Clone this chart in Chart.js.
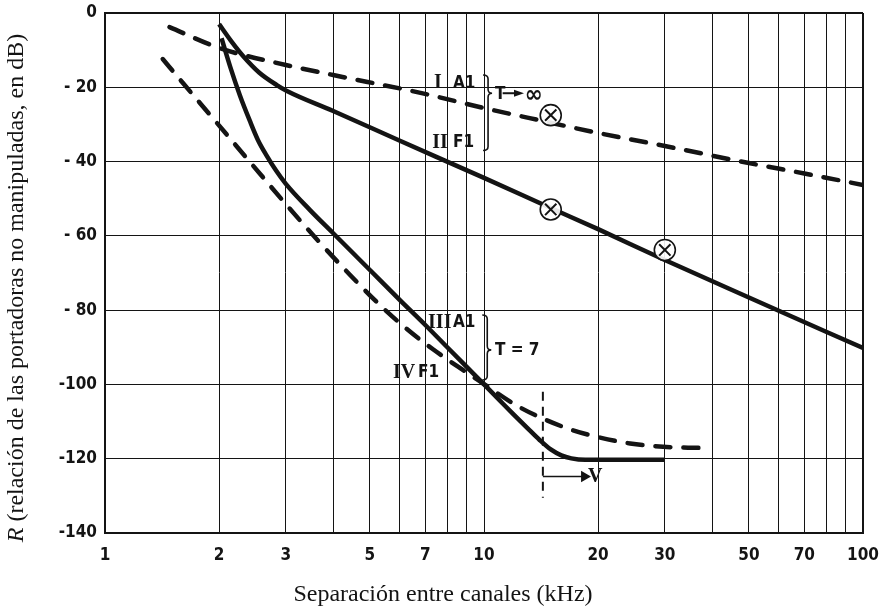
<!DOCTYPE html>
<html>
<head>
<meta charset="utf-8">
<script src="https://cdn.jsdelivr.net/npm/chart.js@4.4.1/dist/chart.umd.min.js"></script>
<style>
  body { margin: 0; background: #fff; }
  #wrap { width: 886px; height: 610px; position: relative; }
</style>
</head>
<body>
<div id="wrap"><canvas id="chart"></canvas></div>
<script>
// ejes
const xGrid = [1, 2, 3, 4, 5, 6, 7, 8, 9, 10, 20, 30, 40, 50, 60, 70, 80, 90, 100];
const xTickLabels = [1, 2, 3, 5, 7, 10, 20, 30, 50, 70, 100];
const yTicks = [0, -20, -40, -60, -80, -100, -120, -140];
const yTickLabels = ['0', '- 20', '- 40', '- 60', '- 80', '-100', '-120', '-140'];

// I  A1  (T -> inf), trazos
const curveIx = [1.48, 2, 3, 4, 6.8, 10, 13.2, 20, 30, 50, 70, 100];
const curveIy = [-3.8, -9.4, -14, -16.7, -21.5, -25.6, -28.3, -32.3, -35.8, -40.4, -43.2, -46.3];

// II  F1  (T -> inf), continua
const curveIIx = [2, 2.15, 2.31, 2.55, 2.84, 3.02, 4, 6, 10, 15, 20, 30, 50, 100];
const curveIIy = [-3, -7.5, -11.5, -16, -19.4, -21, -26.4, -34.4, -44.4, -52.5, -58.2, -66.5, -76.6, -90.2];

// III  A1  (T = 7), continua
const curveIIIx = [2.03, 2.14, 2.27, 2.41, 2.53, 2.67, 2.83, 3, 3.47, 4, 5, 6, 7, 8, 10, 11, 12, 13, 14, 15, 16, 17, 18.5, 22, 30];
const curveIIIy = [-6.8, -14.5, -22.2, -29, -34.1, -38.4, -42.5, -46, -53, -59.3, -69.2, -77.3, -84, -90, -100, -104.3, -108.2, -111.7, -114.9, -117.5, -119.1, -119.9, -120.3, -120.3, -120.3];

// IV  F1  (T = 7), trazos
const curveIVx = [1.42, 1.61, 1.97, 2.23, 2.56, 2.95, 3.62, 4.42, 5.41, 6.4, 7.35, 8.5, 10, 12.2, 14.3, 17, 20.2, 24.3, 29.7, 37.4];
const curveIVy = [-12.4, -19, -29.5, -36, -43.2, -50.6, -60.9, -70.4, -79.4, -85.9, -90.6, -95.1, -99.9, -105.7, -109.2, -112.2, -114.3, -115.9, -116.8, -117.1];

// puntos marcados (circulo con cruz)
const markX = [15, 15, 30];
const markY = [-27.5, -52.9, -63.8];

// limite V
const limitX = [14.3, 14.3];
const limitY = [-102, -130.5];
const arrowX = [14.3, 18.4];
const arrowY = [-124.8, -124.8];

const pts = (xs, ys) => xs.map((x, i) => ({x: x, y: ys[i]}));

const tickFont = "'DejaVu Sans Condensed', 'Liberation Sans Narrow', 'DejaVu Sans', sans-serif";
const serif = "'Liberation Serif', 'DejaVu Serif', serif";
const ink = '#141414';

// rotulos sobre las curvas
const notes = [
    {text: 'I', x: 7.38, y: -18.6, serif: true},
    {text: 'A1', x: 8.28, y: -18.6},
    {text: 'II', x: 7.3, y: -34.7, serif: true},
    {text: 'F1', x: 8.28, y: -34.7},
    {text: 'T', x: 10.69, y: -21.6},
    {text: '\u221E', x: 12.8, y: -21.9, size: 24},
    {text: 'III', x: 7.12, y: -83.2, serif: true},
    {text: 'A1', x: 8.28, y: -83.2},
    {text: 'IV', x: 5.75, y: -96.6, serif: true},
    {text: 'F1', x: 6.7, y: -96.6},
    {text: 'T = 7', x: 10.69, y: -90.7},
    {text: 'V', x: 18.8, y: -124.6, serif: true}
];
const braces = [
    {x: 10.25, top: -16.7, bottom: -37, tip: -21.6},
    {x: 10.2, top: -81.3, bottom: -98.8, tip: -90.7}
];
const smallArrows = [{from: 11.2, to: 12.75, y: -21.6}];

const notesPlugin = {
    id: 'notes',
    afterDatasetsDraw(chart){
        const ctx = chart.ctx;
        const sx = chart.scales.x, sy = chart.scales.y;
        ctx.save();
        ctx.fillStyle = ink;
        ctx.strokeStyle = ink;
        ctx.textBaseline = 'middle';
        ctx.textAlign = 'left';
        notes.forEach(n => {
            if (n.size) ctx.font = 'bold ' + n.size + 'px ' + tickFont;
            else ctx.font = n.serif ? 'bold 20px ' + serif : 'bold 17px ' + tickFont;
            ctx.fillText(n.text, sx.getPixelForValue(n.x), sy.getPixelForValue(n.y) + 1);
        });

        ctx.lineWidth = 1.6;
        braces.forEach(b => {
            const x = sx.getPixelForValue(b.x);
            const t = sy.getPixelForValue(b.top);
            const bt = sy.getPixelForValue(b.bottom);
            const m = sy.getPixelForValue(b.tip);
            ctx.beginPath();
            ctx.moveTo(x - 5, t);
            ctx.quadraticCurveTo(x, t, x, t + 4);
            ctx.lineTo(x, m - 4);
            ctx.quadraticCurveTo(x, m, x + 4, m);
            ctx.quadraticCurveTo(x, m, x, m + 4);
            ctx.lineTo(x, bt - 4);
            ctx.quadraticCurveTo(x, bt, x - 5, bt);
            ctx.stroke();
        });

        ctx.lineWidth = 2;
        smallArrows.forEach(a => {
            const x1 = sx.getPixelForValue(a.from);
            const x2 = sx.getPixelForValue(a.to);
            const y = sy.getPixelForValue(a.y);
            ctx.beginPath();
            ctx.moveTo(x1, y);
            ctx.lineTo(x2 - 6, y);
            ctx.stroke();
            ctx.beginPath();
            ctx.moveTo(x2, y);
            ctx.lineTo(x2 - 10, y - 3.5);
            ctx.lineTo(x2 - 10, y + 3.5);
            ctx.closePath();
            ctx.fill();
        });
        ctx.restore();
    },
    afterDraw(chart){
        const ctx = chart.ctx;
        ctx.save();
        ctx.fillStyle = ink;
        ctx.textBaseline = 'alphabetic';

        // titulo eje x
        ctx.font = '24px ' + serif;
        ctx.textAlign = 'center';
        ctx.fillText('Separación entre canales (kHz)', 443, chart.height - 9);

        // titulo eje y
        const r = 'R';
        const rest = ' (relación de las portadoras no manipuladas, en dB)';
        ctx.translate(23, 288);
        ctx.rotate(-Math.PI / 2);
        ctx.font = 'italic 24px ' + serif;
        const wR = ctx.measureText(r).width;
        ctx.font = '24px ' + serif;
        const wRest = ctx.measureText(rest).width;
        const start = -(wR + wRest) / 2;
        ctx.textAlign = 'left';
        ctx.font = 'italic 24px ' + serif;
        ctx.fillText(r, start, 0);
        ctx.font = '24px ' + serif;
        ctx.fillText(rest, start + wR, 0);
        ctx.restore();
    }
};

const lineSet = (xs, ys, dashed) => ({
    data: pts(xs, ys),
    borderColor: ink,
    borderWidth: 4.5,
    borderDash: dashed ? [15, 13] : [],
    borderCapStyle: dashed ? 'round' : 'butt',
    pointRadius: 0,
    cubicInterpolationMode: 'monotone',
    fill: false
});

new Chart(document.getElementById('chart'), {
    type: 'line',
    data: {
        datasets: [
            {
                data: pts(markX, markY),
                showLine: false,
                pointStyle: 'crossRot',
                pointRadius: 8,
                pointBorderWidth: 2,
                pointBorderColor: ink
            },
            {
                data: pts(markX, markY),
                showLine: false,
                pointStyle: 'circle',
                pointRadius: 10.5,
                pointBorderWidth: 1.6,
                pointBorderColor: ink,
                pointBackgroundColor: 'rgba(255,255,255,0.9)'
            },
            lineSet(curveIx, curveIy, true),
            lineSet(curveIIx, curveIIy, false),
            lineSet(curveIIIx, curveIIIy, false),
            lineSet(curveIVx, curveIVy, true),
            {
                data: pts(limitX, limitY),
                borderColor: ink,
                borderWidth: 2,
                borderDash: [9, 6],
                pointRadius: 0
            },
            {
                data: pts(arrowX, arrowY),
                borderColor: ink,
                borderWidth: 1.6,
                pointRadius: [0, 5],
                pointStyle: 'triangle',
                pointRotation: 90,
                pointBackgroundColor: ink,
                pointBorderColor: ink
            }
        ]
    },
    options: {
        responsive: true,
        maintainAspectRatio: false,
        animation: false,
        events: [],
        layout: {padding: {top: 13, right: 23, left: 0, bottom: 0}},
        plugins: {legend: {display: false}, tooltip: {enabled: false}},
        scales: {
            x: {
                type: 'logarithmic',
                min: 1,
                max: 100,
                afterBuildTicks: s => { s.ticks = xGrid.map(v => ({value: v})); },
                afterFit: s => {
                    s.height = 77;
                    s.paddingLeft = 0;
                    s.paddingRight = 0;
                },
                grid: {
                    color: ink,
                    lineWidth: c => (c.tick && c.tick.value === 100) ? 2 : 1,
                    drawTicks: false
                },
                border: {color: ink, width: 2},
                ticks: {
                    autoSkip: false,
                    maxRotation: 0,
                    padding: 12,
                    color: ink,
                    font: {family: tickFont, size: 17, weight: 'bold'},
                    callback: v => xTickLabels.includes(v) ? String(v) : ''
                }
            },
            y: {
                min: -140,
                max: 0,
                afterBuildTicks: s => { s.ticks = yTicks.map(v => ({value: v})); },
                afterFit: s => {
                    s.width = 105;
                    s.paddingTop = 0;
                    s.paddingBottom = 0;
                },
                grid: {
                    color: ink,
                    lineWidth: c => (c.tick && c.tick.value === 0) ? 2 : 1,
                    drawTicks: false
                },
                border: {color: ink, width: 2},
                ticks: {
                    padding: 8,
                    color: ink,
                    font: {family: tickFont, size: 17, weight: 'bold'},
                    callback: v => yTickLabels[yTicks.indexOf(v)]
                }
            }
        }
    },
    plugins: [notesPlugin]
});
</script>
</body>
</html>
